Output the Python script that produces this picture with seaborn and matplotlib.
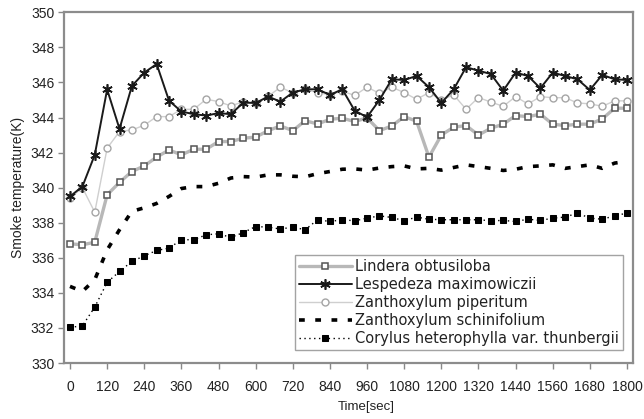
import matplotlib
matplotlib.use("Agg")
import matplotlib.pyplot as plt
import seaborn as sns
import pandas as pd

time_sec = [0, 40, 80, 120, 160, 200, 240, 280, 320, 360, 400, 440, 480, 520, 560,
            600, 640, 680, 720, 760, 800, 840, 880, 920, 960, 1000, 1040, 1080, 1120,
            1160, 1200, 1240, 1280, 1320, 1360, 1400, 1440, 1480, 1520, 1560, 1600,
            1640, 1680, 1720, 1760, 1800]

lindera = [336.8, 336.74, 336.89, 339.59, 340.3, 340.92, 341.24, 341.74, 342.15, 341.87,
           342.19, 342.19, 342.63, 342.63, 342.82, 342.88, 343.25, 343.52, 343.25, 343.82,
           343.63, 343.9, 343.96, 343.77, 343.98, 343.25, 343.52, 344.05, 343.79, 341.74,
           343.0, 343.45, 343.54, 343.0, 343.39, 343.62, 344.11, 344.05, 344.19, 343.62,
           343.54, 343.62, 343.62, 343.92, 344.53, 344.53]

lespedeza = [339.5, 340.06, 341.87, 345.6, 343.35, 345.8, 346.56, 347.05, 344.96, 344.34,
             344.19, 344.11, 344.25, 344.19, 344.85, 344.83, 345.19, 344.91, 345.42, 345.61,
             345.61, 345.29, 345.61, 344.39, 344.02, 345.0, 346.18, 346.14, 346.37, 345.73,
             344.83, 345.61, 346.87, 346.67, 346.48, 345.53, 346.56, 346.37, 345.67, 346.56,
             346.37, 346.18, 345.57, 346.43, 346.18, 346.14]

piperitum = [339.4, 340.0, 338.6, 342.25, 343.2, 343.29, 343.56, 344.05, 344.05, 344.47,
             344.47, 345.04, 344.91, 344.66, 344.9, 344.8, 345.2, 345.73, 345.4, 345.6,
             345.42, 345.3, 345.5, 345.26, 345.73, 345.38, 345.73, 345.42, 345.04, 345.42,
             345.0, 345.29, 344.47, 345.14, 344.88, 344.64, 345.19, 344.77, 345.19, 345.13,
             345.13, 344.83, 344.78, 344.64, 344.95, 344.95]

schinifolium = [334.37, 334.08, 334.75, 336.45, 337.6, 338.65, 338.85, 339.1, 339.5, 339.95,
                340.06, 340.06, 340.25, 340.55, 340.63, 340.6, 340.73, 340.73, 340.65, 340.62,
                340.8, 340.92, 341.05, 341.07, 341.0, 341.12, 341.2, 341.24, 341.07, 341.1,
                341.0, 341.15, 341.3, 341.2, 341.1, 340.98, 341.05, 341.2, 341.24, 341.3,
                341.1, 341.2, 341.3, 341.1, 341.4, 341.5]

corylus = [332.03, 332.12, 333.19, 334.6, 335.22, 335.79, 336.11, 336.42, 336.55, 337.03,
           337.03, 337.31, 337.37, 337.16, 337.44, 337.78, 337.75, 337.64, 337.75, 337.6,
           338.17, 338.07, 338.17, 338.11, 338.26, 338.39, 338.3, 338.11, 338.32, 338.2,
           338.17, 338.17, 338.17, 338.17, 338.11, 338.13, 338.07, 338.2, 338.13, 338.26,
           338.32, 338.55, 338.26, 338.2, 338.39, 338.55]

labels = ["Lindera obtusiloba", "Lespedeza maximowiczii", "Zanthoxylum piperitum",
          "Zanthoxylum schinifolium", "Corylus heterophylla var. thunbergii"]
xticks = [0, 120, 240, 360, 480, 600, 720, 840, 960, 1080, 1200, 1320, 1440, 1560, 1680, 1800]
yticks = [330, 332, 334, 336, 338, 340, 342, 344, 346, 348, 350]

sns.set_theme(style="white")
plt.rcParams["font.family"] = ["Liberation Sans", "DejaVu Sans"]

fig = plt.figure(figsize=(6.44, 4.19), dpi=100)
ax = fig.add_axes([64 / 644, 1 - 363 / 419, (633 - 64) / 644, (363 - 12.3) / 419])

df = pd.DataFrame({"t": time_sec, "lin": lindera, "les": lespedeza, "pip": piperitum,
                   "sch": schinifolium, "cor": corylus})

sns.lineplot(data=df, x="t", y="pip", ax=ax, color="#cfcfcf", lw=1.0, marker="o",
             markersize=5, markerfacecolor="white", markeredgecolor="#a5a5a5",
             markeredgewidth=1.0, label=labels[2], zorder=3)
sns.lineplot(data=df, x="t", y="lin", ax=ax, color="#b8b8b8", lw=2.4, marker="s",
             markersize=4.8, markerfacecolor="white", markeredgecolor="#555555",
             markeredgewidth=1.1, label=labels[0], zorder=4)
sns.lineplot(data=df, x="t", y="sch", ax=ax, color="black", lw=2.6,
             linestyle=(0, (1.6, 2.9)), label=labels[3], zorder=4)
sns.lineplot(data=df, x="t", y="cor", ax=ax, color="black", lw=1.0,
             linestyle=(0, (1, 2.5)), marker="s", markersize=4.6,
             markerfacecolor="black", markeredgecolor="black", label=labels[4], zorder=4)
sns.lineplot(data=df, x="t", y="les", ax=ax, color="#1a1a1a", lw=1.4, marker=(6, 2, 0),
             markersize=7.5, markeredgecolor="#1a1a1a", markeredgewidth=1.2,
             label=labels[1], zorder=5)

ax.set_xlim(-19.4, 1819.4)
ax.set_ylim(330, 350)
ax.set_xticks(xticks)
ax.set_yticks(yticks)
ax.tick_params(axis="both", which="both", direction="out", length=4, width=1,
               color="#888888", labelsize=10, labelcolor="#222222", bottom=True, left=True)
ax.tick_params(axis="x", pad=8)
ax.tick_params(axis="y", pad=3)
for s in ax.spines.values():
    s.set_color("#8c8c8c")
    s.set_linewidth(1.6)

ax.set_xlabel("Time[sec]", fontsize=9.5, color="#222222")
ax.xaxis.set_label_coords((366 - 64) / 569, -0.108)
ax.set_ylabel("Smoke temperature(K)", fontsize=10, color="#222222", labelpad=4)

handles, lbls = ax.get_legend_handles_labels()
order = [lbls.index(l) for l in labels]
leg = ax.legend([handles[i] for i in order], [lbls[i] for i in order],
                loc="lower right", bbox_to_anchor=(0.982, 0.037),
                prop={"family": "DejaVu Sans", "size": 10.5},
                frameon=True, fancybox=False, handlelength=3.6, handletextpad=0.2,
                labelspacing=0.2, borderpad=0.3, borderaxespad=0.0)
leg.get_frame().set_edgecolor("#8c8c8c")
leg.get_frame().set_linewidth(1.0)
for t in leg.get_texts():
    t.set_color("#222222")

fig.savefig("out.png", dpi=100)
